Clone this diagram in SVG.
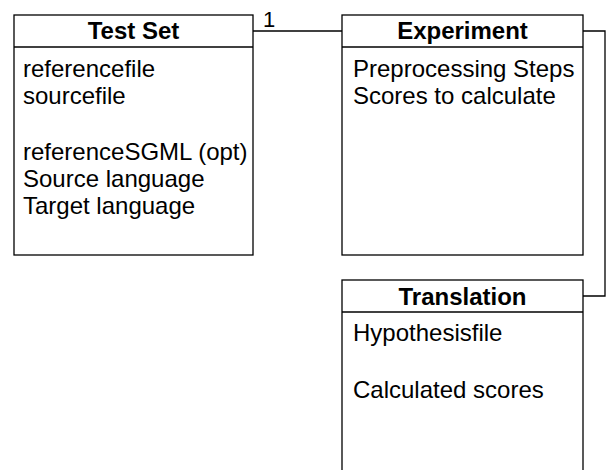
<svg xmlns="http://www.w3.org/2000/svg" width="610" height="470" viewBox="0 0 610 470">
<style>
.box{fill:#fff;stroke:#000;stroke-width:1.3}
.ln{fill:none;stroke:#000;stroke-width:1.3}
.t{font-family:"Liberation Sans",Arial,sans-serif;font-size:24px;font-weight:bold;text-anchor:middle;fill:#000}
.a{font-family:"Liberation Sans",Arial,sans-serif;font-size:24px;fill:#000}
.m{font-family:"Liberation Sans",Arial,sans-serif;font-size:22px;fill:#000}
</style>
<rect width="610" height="470" fill="#fff"/>
<g id="connectors">
<line class="ln" x1="253" y1="31" x2="342" y2="31"/>
<text class="m" x="263" y="27">1</text>
<polyline class="ln" points="583,31 605,31 605,296 583,296"/>
</g>
<g id="testset">
<rect class="box" x="14" y="15" width="239" height="240"/>
<line class="ln" x1="14" y1="47" x2="253" y2="47"/>
<text class="t" x="133.5" y="39">Test Set</text>
<text class="a" x="23" y="77">referencefile</text>
<text class="a" x="23" y="104">sourcefile</text>
<text class="a" x="23" y="160">referenceSGML (opt)</text>
<text class="a" x="23" y="187">Source language</text>
<text class="a" x="23" y="214">Target language</text>
</g>
<g id="experiment">
<rect class="box" x="342" y="15" width="241" height="240"/>
<line class="ln" x1="342" y1="47" x2="583" y2="47"/>
<text class="t" x="462.5" y="39">Experiment</text>
<text class="a" x="353" y="77">Preprocessing Steps</text>
<text class="a" x="353" y="104">Scores to calculate</text>
</g>
<g id="translation">
<rect class="box" x="342" y="280" width="241" height="200"/>
<line class="ln" x1="342" y1="312" x2="583" y2="312"/>
<text class="t" x="462.5" y="305">Translation</text>
<text class="a" x="353" y="341">Hypothesisfile</text>
<text class="a" x="353" y="398">Calculated scores</text>
</g>
</svg>
